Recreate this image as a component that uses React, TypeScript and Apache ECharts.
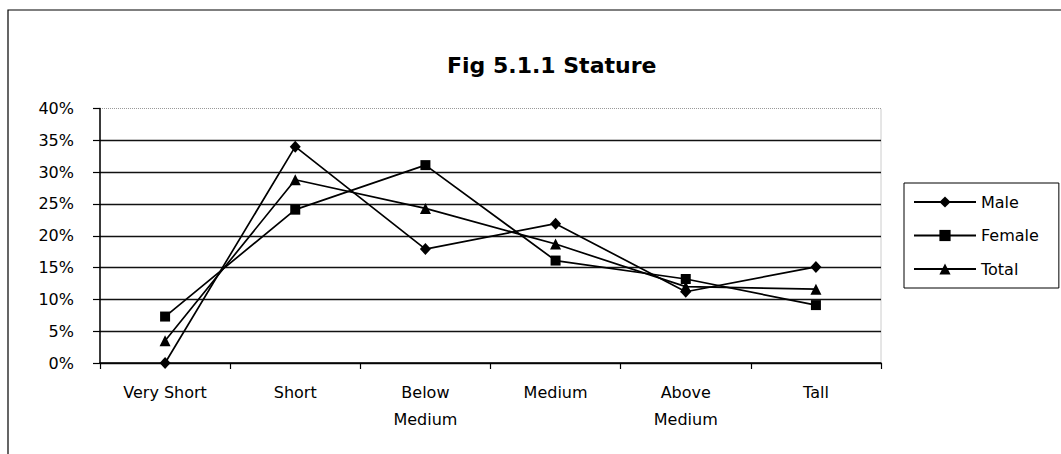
import React, { useEffect, useRef } from "react";
import * as echarts from "echarts";

const categories = ["Very Short", "Short", "Below\nMedium", "Medium", "Above\nMedium", "Tall"];
const maleValues = [0, 34, 17.9, 21.9, 11.2, 15.1];
const femaleValues = [7.3, 24.1, 31.1, 16.1, 13.2, 9.1];
const totalValues = [3.5, 28.8, 24.3, 18.7, 12, 11.6];
const yTicks = { min: 0, max: 40, interval: 5 };
const titleText = "Fig 5.1.1 Stature";

const FONT = "DejaVu Sans";

export default function App() {
  const ref = useRef<HTMLDivElement>(null);
  useEffect(() => {
    if (!ref.current) return;
    const chart = echarts.init(ref.current, undefined, { renderer: "svg" });
    const lineStyle = { color: "#000", width: 1.7 };
    const mk = (name: string, data: number[], symbol: string, size: number | number[]) => ({
      name,
      type: "line",
      data,
      symbol,
      symbolSize: size,
      lineStyle,
      itemStyle: { color: "#000" },
      showSymbol: true,
      z: 3,
    });
    chart.setOption({
      animation: false,
      backgroundColor: "#fff",
      title: {
        text: titleText,
        left: 442,
        top: 49,
        textStyle: { fontFamily: FONT, fontSize: 22, fontWeight: "bold", color: "#000" },
      },
      legend: {
        orient: "vertical",
        left: 904,
        top: 183,
        width: 156,
        padding: [11, 20, 11, 9],
        itemGap: 17.5,
        itemWidth: 62,
        itemHeight: 14,
        borderColor: "#000",
        borderWidth: 1,
        textStyle: { fontFamily: FONT, fontSize: 16, color: "#000", lineHeight: 14 },
        data: ["Male", "Female", "Total"],
      },
      grid: {
        left: 100,
        right: 180,
        top: 108.5,
        bottom: 91,
        show: true,
        borderColor: "#999",
        borderWidth: 1,
        borderType: "dotted",
      },
      xAxis: {
        type: "category",
        data: categories,
        boundaryGap: true,
        axisLine: { lineStyle: { color: "#000", width: 1.5 } },
        axisTick: { show: true, length: 6, lineStyle: { color: "#000", width: 1.2 } },
        axisLabel: {
          fontFamily: FONT,
          fontSize: 16,
          color: "#000",
          margin: 16,
          lineHeight: 27,
          interval: 0,
        },
      },
      yAxis: {
        type: "value",
        min: yTicks.min,
        max: yTicks.max,
        interval: yTicks.interval,
        axisLine: { show: true, lineStyle: { color: "#000", width: 1.5 } },
        axisTick: { show: true, length: 7, lineStyle: { color: "#000", width: 1.2 } },
        axisLabel: {
          fontFamily: FONT,
          fontSize: 16,
          color: "#000",
          margin: 26,
          formatter: "{value}%",
        },
        splitLine: {
          show: true,
          lineStyle: {
            color: ["#111", "#111", "#111", "#111", "#111", "#111", "#111", "#111", "rgba(0,0,0,0)"],
            width: 1.4,
          },
        },
      },
      graphic: [
        {
          type: "rect",
          shape: { x: 8, y: 10, width: 1200, height: 600 },
          style: { fill: "none", stroke: "#000", lineWidth: 1.2 },
          silent: true,
        },
      ],
      series: [
        mk("Male", maleValues, "diamond", [11, 12]),
        mk("Female", femaleValues, "rect", 10),
        mk("Total", totalValues, "triangle", 11),
      ],
    });
    return () => chart.dispose();
  }, []);
  return (
    <div
      ref={ref}
      style={{ position: "absolute", left: 0, top: 0, width: 1061, height: 454 }}
    />
  );
}
